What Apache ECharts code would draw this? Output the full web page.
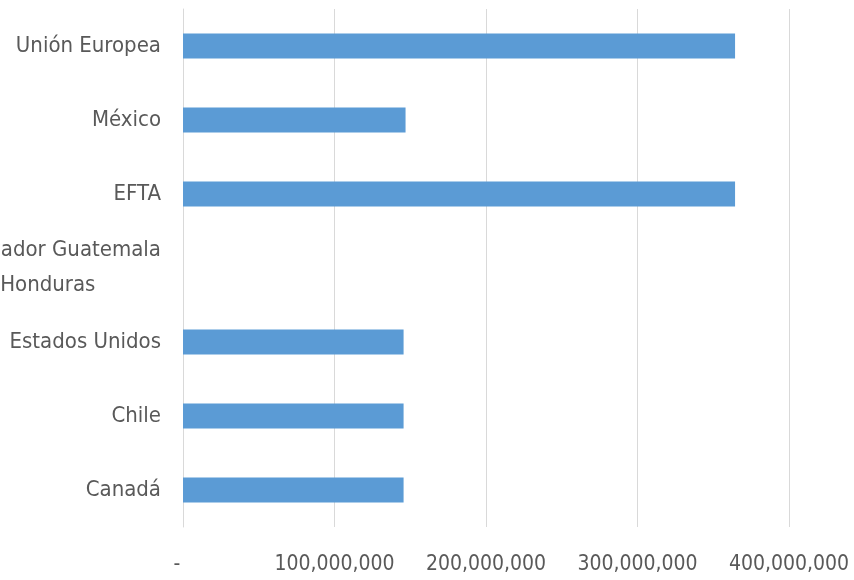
<!DOCTYPE html>
<html><head><meta charset="utf-8">
<script src="https://cdn.jsdelivr.net/npm/echarts@6/dist/echarts.min.js"></script>
<style>html,body{margin:0;padding:0;background:#fff}#c{width:854px;height:580px}</style>
</head><body><div id="c"></div>
<script>
const categories = ["Canadá", "Chile", "Estados Unidos", "El Salvador Guatemala Honduras", "EFTA", "México", "Unión Europea"];
const values = [145600000, 145600000, 145600000, 0, 364400000, 146900000, 364400000];
const tickValues = [0, 100000000, 200000000, 300000000, 400000000];

const FONT = "'Liberation Sans Narrow', 'DejaVu Sans Condensed', sans-serif";
const chart = echarts.init(document.getElementById('c'));
chart.setOption({
  animation: false,
  grid: {left: 183, right: 65, top: 9, bottom: 53, containLabel: false, outerBoundsMode: 'none'},
  xAxis: {
    type: 'value', min: tickValues[0], max: tickValues[tickValues.length - 1], interval: tickValues[1] - tickValues[0],
    axisLine: {show: false}, axisTick: {show: false},
    splitLine: {lineStyle: {color: '#D9D9D9', width: 1}},
    axisLabel: {
      color: '#595959', fontFamily: FONT, fontSize: 21, margin: 27,
      formatter: v => v === 0 ? '-  ' : v.toLocaleString('en-US')
    }
  },
  yAxis: {
    type: 'category', data: categories,
    axisLine: {show: true, lineStyle: {color: '#D9D9D9'}}, axisTick: {show: false},
    axisLabel: {
      color: '#595959', fontFamily: FONT, fontSize: 22, margin: 22, lineHeight: 35,
      formatter: v => v === "El Salvador Guatemala Honduras" ? "El Salvador Guatemala\n{h|Honduras}" : v,
      rich: {h: {align: 'center', color: '#595959', fontFamily: FONT, fontSize: 22, lineHeight: 35}}
    }
  },
  series: [{
    type: 'bar', data: values, barWidth: 25,
    itemStyle: {color: '#5B9BD5'}
  }]
});
</script></body></html>
